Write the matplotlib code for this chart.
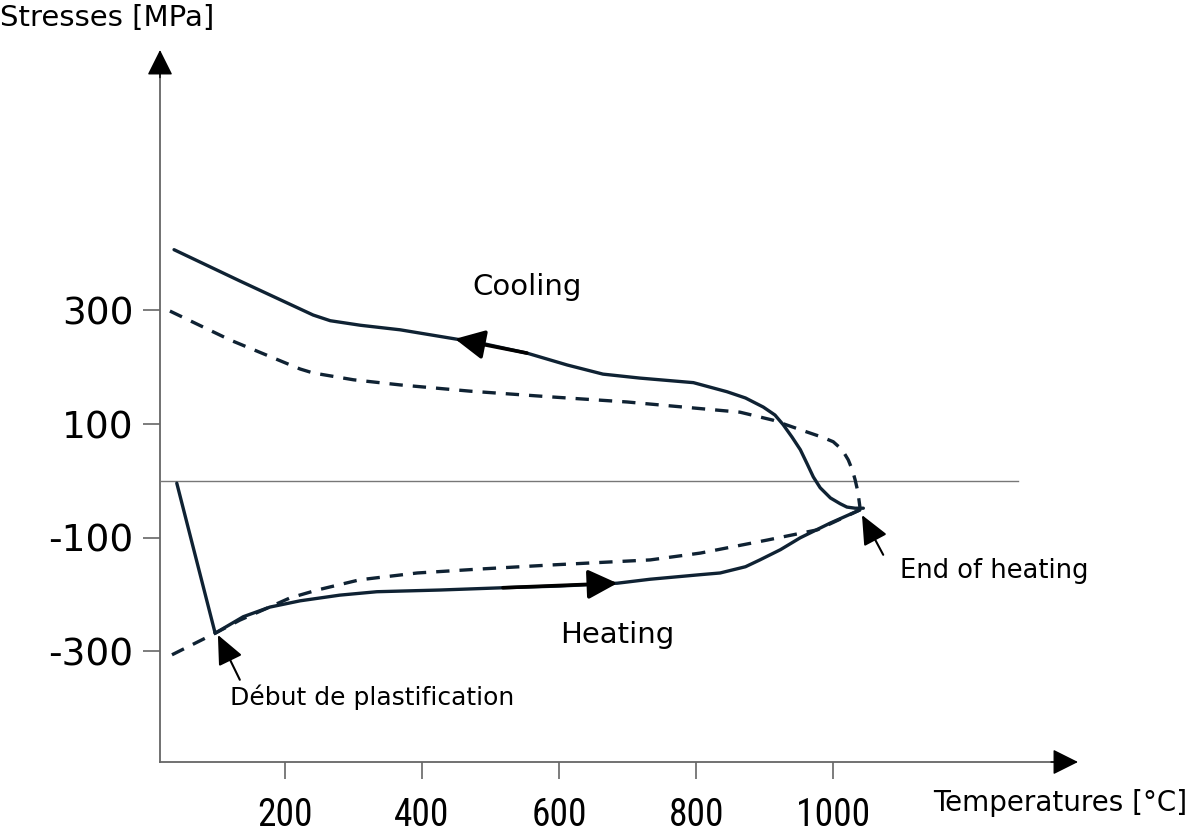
import numpy as np
import matplotlib.pyplot as plt
from matplotlib import font_manager

# temperature [°C] / stress [MPa]
cool_T = [38, 134, 241, 266, 310, 368, 448, 492, 553, 612, 664, 718, 796, 845, 872, 898, 915,
          927, 940, 952, 962, 971, 981, 996, 1010, 1020, 1032, 1044]
cool_S = [407, 352, 292, 282, 274, 266, 250, 241, 225, 204, 188, 181, 173, 157, 146, 130, 116,
          99, 77, 55, 30, 7, -12, -30, -40, -46, -48, -48]

cool_dash_T = [32, 120, 222, 241, 300, 368, 470, 587, 699, 864, 912, 962, 984, 1000, 1013, 1022,
               1028, 1032, 1036, 1039]
cool_dash_S = [299, 248, 197, 190, 178, 169, 158, 148, 139, 121, 107, 86, 77, 69, 55, 37,
               19, 2, -19, -46]

heat_T = [42, 98, 139, 178, 222, 280, 334, 426, 518, 601, 685, 733, 806, 835, 872, 893, 923,
          952, 996, 1039]
heat_S = [-4, -268, -239, -222, -211, -201, -195, -192, -188, -185, -180, -173, -165, -162, -151,
          -139, -121, -100, -74, -51]

heat_dash_T = [35, 98, 134, 168, 207, 247, 309, 393, 485, 587, 733, 806, 904, 977, 1039]
heat_dash_S = [-306, -268, -245, -227, -206, -192, -174, -162, -155, -148, -139, -127, -104, -86, -51]

xticks = [200, 400, 600, 800, 1000]
yticks = [-300, -100, 100, 300]

# look for a narrow face for the x tick labels
narrow_fp = None
for want in ['Liberation Sans Narrow', 'DejaVu Sans Condensed', 'Roboto Condensed', 'Open Sans Condensed']:
    for f in font_manager.fontManager.ttflist:
        if (f.name == want or want in f.fname.replace('-', ' ')) and f.style == 'normal' \
                and f.weight in (400, 'normal', 'regular'):
            narrow_fp = f.fname
            break
    if narrow_fp:
        break
if narrow_fp is None:
    for f in font_manager.fontManager.ttflist:
        if f.stretch in ('condensed', 'semi-condensed') and f.style == 'normal' and f.weight in (400, 'normal'):
            narrow_fp = f.fname
            break
if narrow_fp:
    xfont = font_manager.FontProperties(fname=narrow_fp, size=27)
else:
    xfont = font_manager.FontProperties(family='DejaVu Sans', size=23)

col = '#0f2233'
axcol = '#666666'

fig = plt.figure(figsize=(12, 8.34), dpi=100)
W, H = 1200, 834
ax = fig.add_axes([160 / W, (H - 762) / H, 900 / W, (762 - 73) / H])
ax.set_xlim(17.5, 1331)
ax.set_ylim(-494.7, 718)
for s in ax.spines.values():
    s.set_visible(False)

# axes lines, grey, with black heads
ytop = (762 - 50) / (762 - 73)
xend = (1078 - 160) / 900
ax.plot([0, 0], [0, ytop - 0.03], transform=ax.transAxes, color=axcol, lw=1.3, clip_on=False)
ax.plot([0, xend - 0.02], [0, 0], transform=ax.transAxes, color=axcol, lw=1.3, clip_on=False)
axhead = dict(arrowstyle='-|>,head_length=0.8,head_width=0.4', mutation_scale=20,
              color='black', lw=1.0, shrinkA=0, shrinkB=0)
ax.annotate('', xy=(0, ytop), xytext=(0, ytop - 0.04), xycoords='axes fraction',
            arrowprops=axhead, annotation_clip=False)
ax.annotate('', xy=(xend, 0), xytext=(xend - 0.03, 0), xycoords='axes fraction',
            arrowprops=axhead, annotation_clip=False)
ax.plot([17.5, 1270], [0, 0], color='#777777', lw=1.0)

ax.set_xticks(xticks)
ax.set_yticks(yticks)
ax.set_xticklabels([str(v) for v in xticks], fontproperties=xfont)
ax.set_yticklabels([str(v) for v in yticks], fontsize=27)
ax.tick_params(axis='x', direction='out', length=12, width=1.2, color=axcol, pad=13)
ax.tick_params(axis='y', direction='out', length=12, width=1.2, color=axcol, pad=7)

# curves
ax.plot(cool_T, cool_S, color=col, lw=2.4, solid_capstyle='round', solid_joinstyle='round')
ax.plot(cool_dash_T, cool_dash_S, color=col, lw=2.4, dashes=(4, 3))
ax.plot(heat_T, heat_S, color=col, lw=2.4, solid_capstyle='round', solid_joinstyle='round')
ax.plot(heat_dash_T, heat_dash_S, color=col, lw=2.4, dashes=(4, 3))

# direction arrows on the curves
head = dict(arrowstyle='-|>,head_length=0.9,head_width=0.45', mutation_scale=20, color='black',
            lw=2.6, shrinkA=0, shrinkB=0)
ax.annotate('', xy=(cool_T[6], cool_S[6]), xytext=(cool_T[8], cool_S[8]), arrowprops=head)
ax.annotate('', xy=(heat_T[10], heat_S[10]), xytext=(heat_T[8], heat_S[8]), arrowprops=head)

# pointer annotations
ptr = dict(arrowstyle='-|>,head_length=0.9,head_width=0.4', mutation_scale=20, color='black',
           lw=1.5, shrinkA=0, shrinkB=0)
ax.annotate('', xy=(102, -271), xytext=(134, -350), arrowprops=ptr)
ax.annotate('', xy=(1042, -60), xytext=(1073, -130), arrowprops=ptr)

ax.text(120, -381, 'Début de plastification', fontsize=18, va='center', ha='left')
ax.text(1098, -158, 'End of heating', fontsize=18.5, va='center', ha='left')
ax.text(474, 342, 'Cooling', fontsize=21, va='center', ha='left')
ax.text(601, -271, 'Heating', fontsize=21, va='center', ha='left')

fig.text(0 / W, 1 - 18 / H, 'Stresses [MPa]', fontsize=21, va='center', ha='left')
fig.text(933 / W, 1 - 803 / H, 'Temperatures [°C]', fontsize=20, va='center', ha='left')

plt.savefig('out.png', dpi=100)
